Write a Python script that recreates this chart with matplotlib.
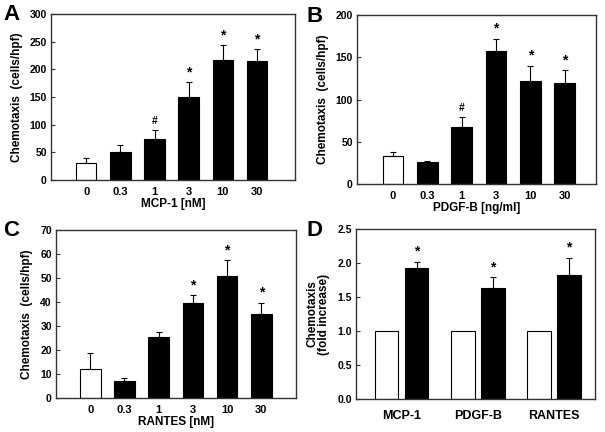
import numpy as np
import matplotlib.pyplot as plt

plt.rcParams['font.family'] = ['Liberation Sans', 'DejaVu Sans']
plt.rcParams['font.weight'] = 'bold'

# dose-response panels
doses = ['0', '0.3', '1', '3', '10', '30']

mcp1_mean = [30, 50, 74, 150, 217, 215]
mcp1_err = [10, 14, 16, 27, 27, 21]
mcp1_sig = ['', '', '#', '*', '*', '*']

pdgf_mean = [33, 26, 67, 157, 122, 120]
pdgf_err = [5, 1, 12, 15, 18, 15]
pdgf_sig = ['', '', '#', '*', '*', '*']

rantes_mean = [12, 7, 25.5, 39.5, 51, 35]
rantes_err = [6.7, 1.5, 2, 3.5, 6.5, 4.7]
rantes_sig = ['', '', '', '*', '*', '*']

# fold increase panel
agents = ['MCP-1', 'PDGF-B', 'RANTES']
ctrl_fold = [1.0, 1.0, 1.0]
stim_fold = [1.93, 1.63, 1.83]
stim_err = [0.09, 0.16, 0.25]

EDGE = '#333333'


def style_axes(ax):
    for s in ax.spines.values():
        s.set_color(EDGE)
        s.set_linewidth(1.0)
    ax.tick_params(axis='y', direction='in', length=3, width=0.8,
                   color=EDGE, labelsize=7.5, pad=3)
    ax.tick_params(axis='x', length=0, labelsize=8, pad=5)


def mark(ax, x, y, s):
    # star / hash above the error bar
    ax.annotate(s, (x, y), xytext=(0, 2 if s == '*' else 3), textcoords='offset points',
                ha='center', va='bottom', fontsize=10 if s == '*' else 7.5, fontweight='bold')


def dose_panel(ax, means, errs, sig, ymax, ystep, xlabel, xlim):
    x = np.arange(len(means))
    colors = ['white'] + ['black'] * (len(means) - 1)
    ax.bar(x, means, width=0.6, color=colors, edgecolor='black', linewidth=0.8, zorder=2)
    ax.errorbar(x, means, yerr=[np.zeros(len(errs)), errs], fmt='none',
                ecolor='black', elinewidth=0.8, capsize=2.5, capthick=0.8, zorder=3)
    for xi, m, e, s in zip(x, means, errs, sig):
        if s:
            mark(ax, xi, m + e, s)
    ax.set_xticks(x)
    ax.set_xticklabels(doses)
    ax.set_xlim(*xlim)
    ax.set_ylim(0, ymax)
    ax.set_yticks(np.arange(0, ymax + ystep / 2, ystep))
    ax.set_xlabel(xlabel, fontsize=8.5, fontweight='bold', labelpad=1)
    ax.set_ylabel('Chemotaxis  (cells/hpf)', fontsize=8.5, fontweight='bold', labelpad=5)
    style_axes(ax)


fig = plt.figure(figsize=(6.05, 4.32), dpi=100)
W, H = 605, 432


def add_axes(l, t, r, b):
    return fig.add_axes([l / W, 1 - b / H, (r - l) / W, (b - t) / H])


axA = add_axes(51, 14, 295, 180)
axB = add_axes(357, 15, 596, 184)
axC = add_axes(56, 230, 296, 398)
axD = add_axes(356, 229, 595, 399)

dose_panel(axA, mcp1_mean, mcp1_err, mcp1_sig, 300, 50, 'MCP-1 [nM]', (-1.03, 6.11))
dose_panel(axB, pdgf_mean, pdgf_err, pdgf_sig, 200, 50, 'PDGF-B [ng/ml]', (-1.05, 5.91))
dose_panel(axC, rantes_mean, rantes_err, rantes_sig, 70, 10, 'RANTES [nM]', (-1.0, 6.01))

# panel D
g = np.arange(len(agents))
off = 0.197
axD.bar(g - off, ctrl_fold, width=0.31, color='white', edgecolor='black', linewidth=0.8, zorder=2)
axD.bar(g + off, stim_fold, width=0.31, color='black', edgecolor='black', linewidth=0.8, zorder=2)
axD.errorbar(g + off, stim_fold, yerr=[np.zeros(3), stim_err], fmt='none',
             ecolor='black', elinewidth=0.8, capsize=2.5, capthick=0.8, zorder=3)
for gi, m, e in zip(g, stim_fold, stim_err):
    mark(axD, gi + off, m + e, '*')
axD.set_xticks(g)
axD.set_xticklabels(agents)
axD.set_xlim(-0.6, 2.54)
axD.set_ylim(0, 2.5)
axD.set_yticks(np.arange(0, 2.51, 0.5))
axD.yaxis.set_major_formatter(plt.FormatStrFormatter('%.1f'))
axD.set_ylabel('Chemotaxis\n(fold increase)', fontsize=8.5, fontweight='bold', labelpad=5,
               linespacing=1.0)
style_axes(axD)
axD.tick_params(axis='x', labelsize=9, pad=8)

# panel letters
for lbl, (px, py) in zip('ABCD', [(3, 15), (306, 16), (3, 230), (306, 230)]):
    fig.text(px / W, 1 - py / H, lbl, fontsize=16, fontweight='bold', va='center', ha='left')

fig.savefig('out.png', dpi=100)
